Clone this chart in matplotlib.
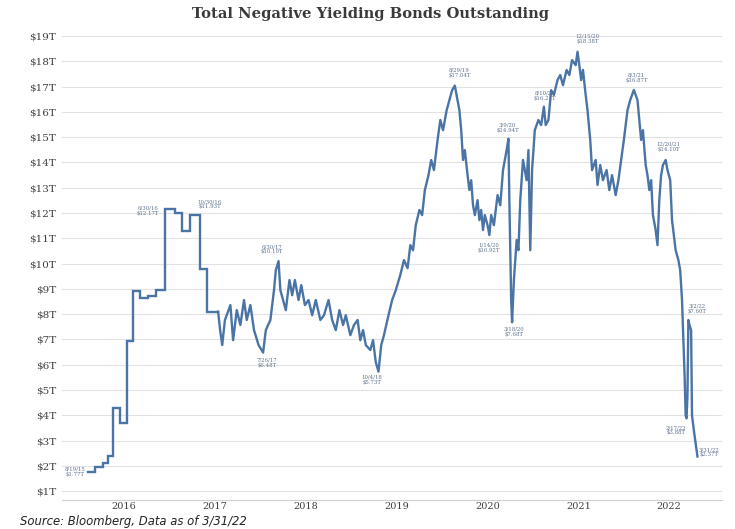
import matplotlib
matplotlib.use("Agg")
import matplotlib.pyplot as plt

# ---- data (decimal year, $T) ----
step_t = [2015.60, 2015.68, 2015.77, 2015.82, 2015.88, 2015.96, 2016.03, 2016.10, 2016.18,
          2016.26, 2016.35, 2016.45, 2016.56, 2016.64, 2016.73, 2016.84, 2016.91, 2017.035]
step_v = [1.75, 1.95, 2.1, 2.4, 4.3, 3.7, 6.95, 8.9, 8.65,
          8.7, 8.95, 12.17, 12.0, 11.3, 11.93, 9.8, 8.1, 8.1]

line_t = [2017.035, 2017.057, 2017.08, 2017.11, 2017.17, 2017.20, 2017.24, 2017.28, 2017.32, 2017.35,
          2017.39, 2017.43, 2017.48, 2017.53, 2017.56, 2017.61, 2017.65, 2017.67, 2017.70, 2017.72,
          2017.75, 2017.78, 2017.82, 2017.85, 2017.88, 2017.92, 2017.95, 2017.99, 2018.03, 2018.07,
          2018.11, 2018.16, 2018.20, 2018.25, 2018.29, 2018.33, 2018.37, 2018.41, 2018.44, 2018.49,
          2018.53, 2018.57, 2018.60, 2018.63, 2018.66, 2018.71, 2018.74, 2018.77, 2018.80, 2018.83,
          2018.86, 2018.91, 2018.95, 2018.99, 2019.04, 2019.08, 2019.12, 2019.15, 2019.18, 2019.21,
          2019.25, 2019.28, 2019.31, 2019.35, 2019.38, 2019.41, 2019.45, 2019.48, 2019.51, 2019.55,
          2019.58, 2019.61, 2019.64, 2019.67, 2019.69, 2019.71, 2019.73, 2019.75, 2019.78, 2019.80,
          2019.82, 2019.84, 2019.86, 2019.89, 2019.91, 2019.93, 2019.95, 2019.97, 2020.00, 2020.02,
          2020.04, 2020.07, 2020.11, 2020.14, 2020.17, 2020.21, 2020.23, 2020.24, 2020.25, 2020.26,
          2020.27, 2020.29, 2020.32, 2020.34, 2020.36, 2020.39, 2020.43, 2020.45, 2020.47, 2020.49,
          2020.52, 2020.56, 2020.59, 2020.62, 2020.64, 2020.67, 2020.70, 2020.73, 2020.77, 2020.80,
          2020.83, 2020.87, 2020.90, 2020.93, 2020.97, 2020.99, 2021.01, 2021.03, 2021.05, 2021.08,
          2021.10, 2021.13, 2021.15, 2021.19, 2021.21, 2021.24, 2021.27, 2021.31, 2021.34, 2021.37,
          2021.41, 2021.44, 2021.47, 2021.50, 2021.54, 2021.57, 2021.61, 2021.65, 2021.67, 2021.69,
          2021.71, 2021.74, 2021.76, 2021.78, 2021.80, 2021.82, 2021.85, 2021.87, 2021.89, 2021.91,
          2021.93, 2021.96, 2021.98, 2022.01, 2022.03, 2022.07, 2022.10, 2022.12, 2022.14, 2022.17,
          2022.18, 2022.19, 2022.20, 2022.21, 2022.22, 2022.24, 2022.25, 2022.27, 2022.31]
line_v = [8.1, 7.37, 6.78, 7.77, 8.36, 6.97, 8.16, 7.57, 8.56, 7.77,
          8.36, 7.37, 6.78, 6.48, 7.37, 7.77, 8.95, 9.74, 10.1, 8.95,
          8.56, 8.16, 9.35, 8.75, 9.35, 8.56, 9.15, 8.36, 8.56, 7.96,
          8.56, 7.77, 7.96, 8.56, 7.77, 7.37, 8.16, 7.57, 7.96, 7.17,
          7.57, 7.77, 6.97, 7.37, 6.78, 6.58, 6.97, 6.1, 5.73, 6.78,
          7.17, 7.96, 8.56, 8.95, 9.55, 10.14, 9.82, 10.73, 10.53, 11.52,
          12.12, 11.92, 12.91, 13.5, 14.1, 13.7, 14.89, 15.68, 15.28, 16.07,
          16.47, 16.86, 17.04, 16.47, 16.07, 15.28, 14.1, 14.49, 13.5, 12.91,
          13.3, 12.31, 11.92, 12.51, 11.72, 12.12, 11.33, 11.92, 11.52, 11.13,
          11.92, 11.52, 12.71, 12.31, 13.7, 14.49, 14.94, 12.51, 10.53, 8.56,
          7.68, 9.35, 10.93, 10.53, 12.51, 14.1, 13.3, 14.49, 10.53, 13.7,
          15.28, 15.68, 15.48, 16.21, 15.48, 15.68, 16.86, 16.67, 17.26, 17.46,
          17.06, 17.66, 17.46, 18.05, 17.85, 18.38, 17.85, 17.26, 17.66, 16.67,
          16.07, 14.89, 13.7, 14.1, 13.11, 13.9, 13.3, 13.7, 12.91, 13.5,
          12.71, 13.3, 14.1, 14.89, 16.07, 16.47, 16.87, 16.47, 15.68, 14.89,
          15.28, 13.9, 13.5, 12.91, 13.3, 11.92, 11.33, 10.73, 12.51, 13.5,
          13.9, 14.1, 13.7, 13.3, 11.72, 10.53, 10.14, 9.74, 8.56, 5.39,
          4.0, 3.88, 4.8, 7.77, 7.60, 7.37, 4.0, 3.41, 2.37]

ann_text = ["8/19/15\n$1.77T", "6/30/16\n$12.17T", "10/30/16\n$11.93T", "6/30/17\n$10.10T",
            "7/26/17\n$6.48T", "10/4/18\n$5.73T", "8/29/19\n$17.04T", "3/9/20\n$14.94T",
            "1/14/20\n$10.92T", "3/18/20\n$7.68T", "8/10/20\n$16.21T", "12/15/20\n$18.38T",
            "8/3/21\n$16.87T", "12/20/21\n$14.10T", "3/2/22\n$7.60T", "2/17/22\n$3.88T",
            "3/31/22\n$2.37T"]
ann_t = [2015.46, 2016.26, 2016.94, 2017.63, 2017.57, 2018.73, 2019.69, 2020.22, 2020.01,
         2020.29, 2020.63, 2021.10, 2021.64, 2021.99, 2022.31, 2022.07, 2022.44]
ann_v = [1.75, 12.08, 12.35, 10.57, 6.07, 5.39, 17.54, 15.36, 10.61,
         7.29, 16.63, 18.88, 17.34, 14.61, 8.2, 3.41, 2.54]

years = [2016, 2017, 2018, 2019, 2020, 2021, 2022]
yticks = list(range(1, 20))
ylabels = [f"${v}T" for v in yticks]

title = "Total Negative Yielding Bonds Outstanding"
source = "Source: Bloomberg, Data as of 3/31/22"

# ---- figure ----
line_color = "#4a74a6"
fig = plt.figure(figsize=(7.35, 5.29), dpi=100)
ax = fig.add_axes([62 / 735, 1 - 500 / 529, (722 - 62) / 735, 472 / 529])

ax.plot(step_t, step_v, drawstyle="steps-post", color=line_color, lw=1.7, solid_joinstyle="miter")
ax.plot(line_t, line_v, color=line_color, lw=1.7)

ax.set_xlim(2015.317, 2022.58)
ax.set_ylim(0.65, 19.32)
ax.set_yticks(yticks)
ax.set_yticklabels(ylabels, family="DejaVu Serif", fontsize=7.5, color="#404040")
ax.set_xticks(years)
ax.set_xticklabels([str(y) for y in years], family="DejaVu Serif", fontsize=7, color="#404040")
ax.tick_params(axis="y", length=0, pad=4)
ax.tick_params(axis="x", length=0, pad=1.5)
ax.grid(axis="y", color="#e2e2e2", lw=0.8)
ax.set_axisbelow(True)
for s in ["top", "right", "left"]:
    ax.spines[s].set_visible(False)
ax.spines["bottom"].set_color("#d0d0d0")

for txt, t, v in zip(ann_text, ann_t, ann_v):
    ax.text(t, v, txt, ha="center", va="center", fontsize=3.9, family="DejaVu Serif",
            color="#5b6f8c", linespacing=1.1)

fig.text(370 / 735, 1 - 14 / 529, title, ha="center", va="center", fontsize=10.6,
         family="DejaVu Serif", fontweight="bold", color="#3a3a3a")
fig.text(20 / 735, 1 - 521.5 / 529, source, ha="left", va="center", fontsize=8.4,
         family="DejaVu Sans", style="italic", color="#222222")

fig.savefig("out.png", dpi=100)
